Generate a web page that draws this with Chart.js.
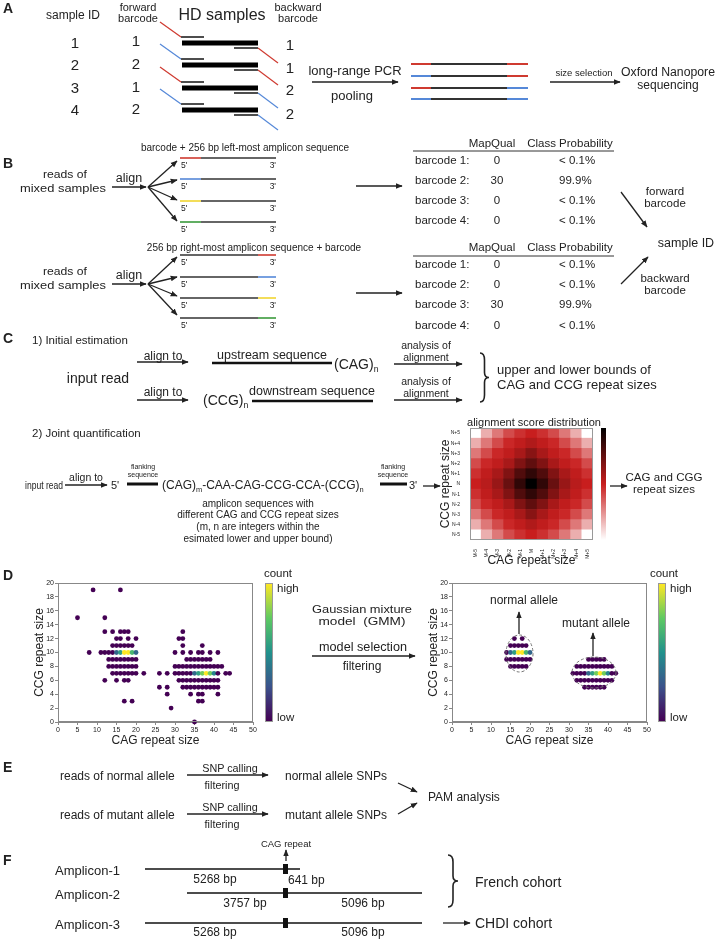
<!DOCTYPE html>
<html>
<head>
<meta charset="utf-8">
<script src="https://cdn.jsdelivr.net/npm/chart.js@4.4.0/dist/chart.umd.min.js"></script>
<style>
  body { margin: 0; background: #fff; }
  #fig { position: relative; width: 717px; height: 941px; overflow: hidden; font-family: 'Liberation Sans', Arial, sans-serif; }
  canvas { position: absolute; }
  #diagram { position: absolute; left: 0; top: 0; font-family: 'Liberation Sans', Arial, sans-serif; fill: #222; }
  .cbar { position: absolute; box-sizing: border-box; border: 1px solid #999; }
</style>
</head>
<body>
<div id="fig">
  <canvas id="heat" width="160" height="148" style="left:438px;top:420px"></canvas>
  <canvas id="scatL" width="228" height="173" style="left:32px;top:575px"></canvas>
  <canvas id="scatR" width="228" height="173" style="left:426px;top:575px"></canvas>
  <div class="cbar" style="left:601px;top:428px;width:5px;height:112px;border:none;background:linear-gradient(to bottom,#000 0%,#c81e1e 50%,#fff 100%)"></div>
  <div class="cbar" style="left:265px;top:583px;width:8px;height:139px;background:linear-gradient(to top,#440154,#3b528b,#21918c,#5ec962,#fde725)"></div>
  <div class="cbar" style="left:658px;top:583px;width:8px;height:139px;background:linear-gradient(to top,#440154,#3b528b,#21918c,#5ec962,#fde725)"></div>
  <svg id="diagram" width="717" height="941">
    <defs>
      <marker id="ah" viewBox="0 0 10 10" refX="9" refY="5" markerWidth="7" markerHeight="7" markerUnits="userSpaceOnUse" orient="auto">
        <path d="M0,1 L10,5 L0,9 z" fill="#222"></path>
      </marker>
    </defs>
  </svg>
</div>
<script>
// heatmap: alignment score distribution
const heatCols = ['M-5', 'M-4', 'M-3', 'M-2', 'M-1', 'M', 'M+1', 'M+2', 'M+3', 'M+4', 'M+5'];
const heatRows = ['N+5', 'N+4', 'N+3', 'N+2', 'N+1', 'N', 'N-1', 'N-2', 'N-3', 'N-4', 'N-5'];
const heatScores = [
  [0, 18, 30, 40, 46, 50, 46, 40, 30, 18, 0],
  [18, 30, 40, 48, 52, 56, 52, 48, 40, 30, 18],
  [30, 40, 48, 52, 58, 66, 58, 52, 48, 40, 30],
  [40, 48, 52, 58, 68, 76, 68, 58, 52, 48, 40],
  [46, 52, 58, 68, 80, 88, 80, 68, 58, 52, 46],
  [50, 54, 62, 74, 88, 100, 88, 74, 62, 54, 50],
  [46, 52, 58, 68, 80, 88, 80, 68, 58, 52, 46],
  [40, 48, 52, 58, 68, 76, 68, 58, 52, 48, 40],
  [30, 40, 48, 52, 58, 66, 58, 52, 48, 40, 30],
  [18, 30, 40, 48, 52, 56, 52, 48, 40, 30, 18],
  [0, 18, 30, 40, 46, 50, 46, 40, 30, 18, 0]
];

// scatter axes
const cagTicks = [0, 5, 10, 15, 20, 25, 30, 35, 40, 45, 50];
const ccgTicks = [0, 2, 4, 6, 8, 10, 12, 14, 16, 18, 20];

// all reads (left plot), one row per CCG size
const leftCCG = [19, 15, 13, 12, 11, 10, 9, 8, 7, 6, 5, 4, 3, 2, 0];
const leftCAG = [
  [9, 16],
  [5, 12],
  [12, 14, 16, 17, 18, 32],
  [15, 16, 18, 20, 31, 32],
  [14, 15, 16, 17, 18, 19, 32, 37],
  [8, 11, 12, 13, 14, 15, 16, 17, 18, 19, 20, 30, 32, 34, 36, 37, 39, 41],
  [13, 14, 15, 16, 17, 18, 19, 20, 33, 34, 35, 36, 37, 38, 39],
  [13, 14, 15, 16, 17, 18, 19, 20, 30, 31, 32, 33, 34, 35, 36, 37, 38, 39, 40, 41, 42],
  [14, 15, 16, 17, 18, 19, 20, 22, 26, 28, 30, 31, 32, 33, 34, 35, 36, 37, 38, 39, 40, 41, 43, 44],
  [12, 15, 17, 18, 31, 32, 33, 34, 35, 36, 37, 38, 39, 40, 41],
  [26, 28, 32, 33, 34, 35, 36, 37, 38, 39, 40, 41],
  [28, 34, 36, 37, 41],
  [17, 19, 36, 37],
  [29],
  [35]
];

// after GMM filtering (right plot)
const normalCCG = [12, 11, 10, 9, 8];
const normalCAG = [
  [16, 18],
  [15, 16, 17, 18, 19],
  [14, 15, 16, 17, 18, 19, 20],
  [14, 15, 16, 17, 18, 19, 20],
  [15, 16, 17, 18, 19]
];
const mutantCCG = [9, 8, 7, 6, 5];
const mutantCAG = [
  [35, 36, 37, 38, 39],
  [32, 33, 34, 35, 36, 37, 38, 39, 40, 41],
  [31, 32, 33, 34, 35, 36, 37, 38, 39, 40, 41, 42],
  [32, 33, 34, 35, 36, 37, 38, 39, 40, 41],
  [34, 35, 36, 37, 38, 39]
];

// read counts above the minimum (cag, ccg, count); every other dot is count 1
const hotCounts = [
  [15, 10, 4], [16, 10, 6], [17, 10, 10], [18, 10, 10], [19, 10, 7], [20, 10, 4],
  [35, 7, 4], [36, 7, 6], [37, 7, 8], [38, 7, 10], [39, 7, 8], [40, 7, 5]
];
const maxCount = 10;

Chart.defaults.font.family = "'Liberation Sans', Arial, sans-serif";
Chart.defaults.color = '#222';

const VIRIDIS = [[68, 1, 84], [59, 82, 139], [33, 145, 140], [94, 201, 98], [253, 231, 37]];
function viridis(c) {
  const t = (c - 1) / (maxCount - 1) * (VIRIDIS.length - 1);
  const i = Math.min(Math.floor(t), VIRIDIS.length - 2), f = t - i;
  const a = VIRIDIS[i], b = VIRIDIS[i + 1];
  return `rgb(${a.map((v, k) => Math.round(v + (b[k] - v) * f)).join(',')})`;
}

function heatColor(v) {
  const red = [200, 30, 30];
  let rgb;
  if (v <= 50) {
    const t = v / 50;
    rgb = red.map(c => Math.round(255 + (c - 255) * t));
  } else {
    const t = (v - 50) / 50;
    rgb = red.map(c => Math.round(c * (1 - t)));
  }
  return `rgb(${rgb.join(',')})`;
}

function toPoints(ccgList, cagLists) {
  const pts = [];
  ccgList.forEach((y, i) => {
    cagLists[i].forEach(x => {
      const h = hotCounts.find(p => p[0] === x && p[1] === y);
      pts.push({ x: x, y: y, c: h ? h[2] : 1 });
    });
  });
  return pts;
}

// box round the plot area
const frame = {
  id: 'frame',
  afterDatasetsDraw(chart, args, opts) {
    const a = chart.chartArea, ctx = chart.ctx;
    ctx.save();
    ctx.strokeStyle = opts.color || '#888';
    ctx.lineWidth = 1;
    ctx.strokeRect(Math.round(a.left) + 0.5, Math.round(a.top) + 0.5, Math.round(a.width) - 1, Math.round(a.height) - 1);
    ctx.restore();
  }
};
Chart.register(frame);

function scatterOptions() {
  return {
    animation: false,
    responsive: false,
    events: [],
    layout: { padding: { top: 8, right: 7, left: 0, bottom: 0 } },
    plugins: { legend: { display: false }, tooltip: { enabled: false }, frame: { color: '#888' } },
    scales: {
      x: {
        type: 'linear', min: 0, max: 50,
        afterBuildTicks: s => { s.ticks = cagTicks.map(v => ({ value: v })); },
        afterFit: s => { s.height = 26; },
        grid: { drawOnChartArea: false, tickLength: 3, color: '#888' },
        border: { color: '#888' },
        ticks: { font: { size: 7 }, padding: 1, maxRotation: 0, autoSkip: false },
        title: { display: true, text: 'CAG repeat size', font: { size: 12 }, padding: { top: 1, bottom: 0 } }
      },
      y: {
        type: 'linear', min: 0, max: 20,
        afterBuildTicks: s => { s.ticks = ccgTicks.map(v => ({ value: v })); },
        afterFit: s => { s.width = 26; },
        grid: { drawOnChartArea: false, tickLength: 3, color: '#888' },
        border: { color: '#888' },
        ticks: { font: { size: 7 }, padding: 1, autoSkip: false },
        title: { display: true, text: 'CCG repeat size', font: { size: 12 }, padding: { top: 0, bottom: 2 } }
      }
    }
  };
}

function scatterChart(id, points) {
  return new Chart(document.getElementById(id), {
    type: 'scatter',
    data: {
      datasets: [{
        data: points,
        pointRadius: 2.4,
        pointBorderWidth: 0,
        pointBackgroundColor: points.map(p => viridis(p.c)),
        clip: 4
      }]
    },
    options: scatterOptions()
  });
}

scatterChart('scatL', toPoints(leftCCG, leftCAG));
scatterChart('scatR', toPoints(normalCCG, normalCAG).concat(toPoints(mutantCCG, mutantCAG)));

// heatmap as stacked unit bars, bottom row first
const heatDatasets = heatRows.slice().reverse().map((r, i) => ({
  label: r,
  data: heatCols.map(() => 1),
  backgroundColor: heatScores[heatRows.length - 1 - i].map(heatColor),
  borderWidth: 0,
  barPercentage: 1,
  categoryPercentage: 1
}));

new Chart(document.getElementById('heat'), {
  type: 'bar',
  data: { labels: heatCols, datasets: heatDatasets },
  options: {
    animation: false,
    responsive: false,
    events: [],
    layout: { padding: { top: 8, right: 5, left: 0, bottom: 0 } },
    plugins: { legend: { display: false }, tooltip: { enabled: false }, frame: { color: '#999' } },
    scales: {
      x: {
        stacked: true,
        afterFit: s => { s.height = 28; },
        grid: { display: false },
        border: { display: false },
        ticks: { font: { size: 5 }, padding: 1, minRotation: 90, maxRotation: 90, autoSkip: false },
        title: { display: true, text: 'CAG repeat size', font: { size: 12 }, padding: { top: 0, bottom: 0 } }
      },
      y: {
        stacked: true, min: 0, max: 11,
        afterBuildTicks: s => { s.ticks = heatRows.map((r, i) => ({ value: 10.5 - i })); },
        afterFit: s => { s.width = 32; },
        grid: { display: false },
        border: { display: false },
        ticks: { font: { size: 5 }, padding: 2, autoSkip: false, callback: v => heatRows[Math.round(10.5 - v)] },
        title: { display: true, text: 'CCG repeat size', font: { size: 12 }, padding: { top: 0, bottom: 1 } }
      }
    }
  }
});

// ---------- diagram parts ----------
const NS = 'http://www.w3.org/2000/svg';
const svg = document.getElementById('diagram');
const RED = '#cf3a30', BLUE = '#5588d8', YEL = '#f0d530', GRN = '#3a9a3c', INK = '#222';

function el(tag, attrs) {
  const e = document.createElementNS(NS, tag);
  for (const k in attrs) e.setAttribute(k, attrs[k]);
  svg.appendChild(e);
  return e;
}
function line(x1, y1, x2, y2, color, w, head) {
  const a = { x1, y1, x2, y2, stroke: color || INK, 'stroke-width': w || 1.3 };
  if (head) a['marker-end'] = 'url(#ah)';
  return el('line', a);
}
function arrow(x1, y1, x2, y2) { return line(x1, y1, x2, y2, INK, 1.3, true); }
function tx(x, y, s, size, anchor, bold, width) {
  const t = el('text', { x, y, 'font-size': size, 'text-anchor': anchor || 'start', 'dominant-baseline': 'central' });
  if (bold) t.setAttribute('font-weight', 'bold');
  if (width) { t.setAttribute('textLength', width); t.setAttribute('lengthAdjust', 'spacingAndGlyphs'); }
  t.style.whiteSpace = 'pre';
  t.textContent = s;
  return t;
}
// text with subscripts: parts = [[string, isSub], ...]
function txSub(x, y, parts, size, anchor) {
  const t = el('text', { x, y, 'font-size': size, 'text-anchor': anchor || 'start', 'dominant-baseline': 'central' });
  let shifted = false;
  parts.forEach(([s, isSub]) => {
    const sp = document.createElementNS(NS, 'tspan');
    if (isSub) { sp.setAttribute('font-size', size * 0.62); sp.setAttribute('dy', size * 0.35); shifted = true; }
    else if (shifted) { sp.setAttribute('dy', -size * 0.35); shifted = false; }
    sp.textContent = s;
    t.appendChild(sp);
  });
  return t;
}
function brace(x, y1, y2, w) {
  const ym = (y1 + y2) / 2, h = w / 2;
  el('path', {
    d: `M${x},${y1} Q${x + h},${y1} ${x + h},${y1 + 7} L${x + h},${ym - 5} Q${x + h},${ym} ${x + w},${ym} ` +
       `Q${x + h},${ym} ${x + h},${ym + 5} L${x + h},${y2 - 7} Q${x + h},${y2} ${x},${y2}`,
    fill: 'none', stroke: INK, 'stroke-width': 1.6
  });
}

// panel A
tx(3, 8, 'A', 14, 'start', true);
tx(73, 15, 'sample ID', 12, 'middle');
tx(138, 7, 'forward', 11, 'middle');
tx(138, 18, 'barcode', 11, 'middle');
tx(222, 14, 'HD samples', 16, 'middle');
tx(298, 7, 'backward', 11, 'middle');
tx(298, 18, 'barcode', 11, 'middle');
const aBarY = [43, 65, 88, 110];
const aFwd = ['1', '2', '1', '2'], aBwd = ['1', '1', '2', '2'];
const aFwdCol = [RED, BLUE, RED, BLUE], aBwdCol = [RED, RED, BLUE, BLUE];
const aSampleY = [42, 64, 87, 109], aFwdY = [40, 63, 86, 108], aBwdY = [44, 67, 89, 113];
aBarY.forEach((y, i) => {
  tx(75, aSampleY[i], String(i + 1), 15, 'middle');
  tx(136, aFwdY[i], aFwd[i], 15, 'middle');
  tx(290, aBwdY[i], aBwd[i], 15, 'middle');
  line(182, y, 258, y, '#000', 5);
  line(181, y - 6, 204, y - 6, '#000', 1.4);
  line(234, y + 5, 258, y + 5, '#000', 1.4);
  line(160, y - 21, 181, y - 6, aFwdCol[i], 1.2);
  line(258, y + 5, 278, y + 20, aBwdCol[i], 1.2);
});
tx(355, 70, 'long-range PCR', 13, 'middle');
tx(352, 95, 'pooling', 13, 'middle');
arrow(312, 82, 398, 82);
[64, 76, 88, 99].forEach((y, i) => {
  line(411, y, 431, y, aFwdCol[i], 2);
  line(431, y, 507, y, '#333', 2);
  line(507, y, 528, y, aBwdCol[i], 2);
});
tx(584, 72, 'size selection', 9.5, 'middle');
arrow(550, 82, 620, 82);
tx(668, 72, 'Oxford Nanopore', 12, 'middle', false, 94);
tx(668, 85, 'sequencing', 12, 'middle');

// panel B
tx(3, 163, 'B', 14, 'start', true);
const bCols = [RED, BLUE, YEL, GRN];
const bMapQ = [['0', '30', '0', '0'], ['0', '0', '30', '0']];
const bProb = [['< 0.1%', '99.9%', '< 0.1%', '< 0.1%'], ['< 0.1%', '< 0.1%', '99.9%', '< 0.1%']];
const bBlocks = [
  { title: 'barcode + 256 bp left-most amplicon sequence', titleX: 245, titleY: 147, arrowY: 187,
    tips: [161, 180, 200, 221], lines: [158, 179, 201, 222], left: true, midY: 186, headY: 143, ruleY: 151, rows: [160, 180, 200, 220] },
  { title: '256 bp right-most amplicon sequence + barcode', titleX: 254, titleY: 247, arrowY: 284,
    tips: [257, 277, 296, 315], lines: [255, 277, 298, 318], left: false, midY: 293, headY: 247, ruleY: 256, rows: [264, 284, 304, 325] }
];
bBlocks.forEach((b, k) => {
  tx(b.titleX, b.titleY, b.title, 10, 'middle');
  tx(65, b.arrowY - 13, 'reads of', 11.5, 'middle', false, 44);
  tx(63, b.arrowY + 0.5, 'mixed samples', 11.5, 'middle', false, 86);
  tx(129, b.arrowY - 9, 'align', 12.5, 'middle');
  arrow(112, b.arrowY, 146, b.arrowY);
  b.tips.forEach(t => arrow(148, b.arrowY, 177, t));
  b.lines.forEach((y, i) => {
    if (b.left) { line(180, y, 201, y, bCols[i], 1.6); line(201, y, 276, y, '#333', 1.6); }
    else { line(180, y, 258, y, '#333', 1.6); line(258, y, 276, y, bCols[i], 1.6); }
    tx(181, y + 7, "5'", 8.5, 'start');
    tx(276, y + 7, "3'", 8.5, 'end');
  });
  arrow(356, b.midY, 402, b.midY);
  tx(492, b.headY, 'MapQual', 11.5, 'middle');
  tx(570, b.headY, 'Class Probability', 11.5, 'middle');
  line(413, b.ruleY, 614, b.ruleY, '#333', 1);
  b.rows.forEach((y, i) => {
    tx(415, y, `barcode ${i + 1}:`, 11.5, 'start');
    tx(497, y, bMapQ[k][i], 11.5, 'middle');
    tx(559, y, bProb[k][i], 11.5, 'start');
  });
});
arrow(621, 192, 647, 227);
arrow(621, 284, 648, 257);
tx(665, 191, 'forward', 11.5, 'middle');
tx(665, 203, 'barcode', 11.5, 'middle');
tx(686, 243, 'sample ID', 12.5, 'middle');
tx(665, 278, 'backward', 11.5, 'middle');
tx(665, 290, 'barcode', 11.5, 'middle');

// panel C
tx(3, 338, 'C', 14, 'start', true);
tx(32, 340, '1) Initial estimation', 11.5, 'start');
tx(163, 356, 'align to', 12, 'middle');
arrow(137, 362, 188, 362);
tx(163, 392, 'align to', 12, 'middle');
arrow(137, 400, 188, 400);
tx(98, 378, 'input read', 14, 'middle');
tx(272, 355, 'upstream sequence', 12.5, 'middle');
line(212, 363, 332, 363, '#111', 2.5);
txSub(334, 364, [['(CAG)', false], ['n', true]], 14, 'start');
txSub(203, 400, [['(CCG)', false], ['n', true]], 14, 'start');
tx(312, 391, 'downstream sequence', 12.5, 'middle');
line(252, 401, 373, 401, '#111', 2.5);
tx(426, 345, 'analysis of', 10.5, 'middle');
tx(426, 357, 'alignment', 10.5, 'middle');
arrow(394, 364, 462, 364);
tx(426, 381, 'analysis of', 10.5, 'middle');
tx(426, 393, 'alignment', 10.5, 'middle');
arrow(394, 400, 462, 400);
brace(480, 353, 402, 9);
tx(497, 369, 'upper and lower bounds of', 13, 'start');
tx(497, 384, 'CAG and CCG repeat sizes', 13, 'start');
tx(32, 433, '2) Joint quantification', 11.5, 'start');
tx(534, 422, 'alignment score distribution', 11, 'middle');
tx(25, 485, 'input read', 11, 'start', false, 38);
tx(86, 477, 'align to', 10.5, 'middle');
arrow(65, 485, 107, 485);
tx(111, 485, "5'", 11, 'start');
tx(143, 466, 'flanking', 7, 'middle');
tx(143, 474, 'sequence', 7, 'middle');
line(127, 484, 158, 484, '#111', 3);
txSub(162, 485, [['(CAG)', false], ['m', true], ['-CAA-CAG-CCG-CCA-(CCG)', false], ['n', true]], 12, 'start');
tx(393, 466, 'flanking', 7, 'middle');
tx(393, 474, 'sequence', 7, 'middle');
line(380, 484, 407, 484, '#111', 3);
tx(409, 485, "3'", 11, 'start');
arrow(423, 486, 440, 486);
tx(258, 503, 'amplicon sequences with', 10, 'middle');
tx(258, 514, 'different CAG and CCG repeat sizes', 10, 'middle');
tx(258, 526, '(m, n are integers within the', 10, 'middle');
tx(258, 538, 'esimated lower and upper bound)', 10, 'middle');
arrow(610, 486, 627, 486);
tx(664, 477, 'CAG and CGG', 11.5, 'middle', false, 77);
tx(664, 489, 'repeat sizes', 11.5, 'middle');

// panel D
tx(3, 575, 'D', 14, 'start', true);
tx(278, 573, 'count', 11.5, 'middle');
tx(277, 588, 'high', 11.5, 'start');
tx(277, 717, 'low', 11.5, 'start');
tx(362, 609, 'Gaussian mixture', 11.5, 'middle', false, 100);
tx(362, 621, 'model  (GMM)', 11.5, 'middle', false, 87);
tx(363, 647, 'model selection', 12, 'middle', false, 88);
arrow(312, 656, 415, 656);
tx(362, 666, 'filtering', 12, 'middle');
tx(664, 573, 'count', 11.5, 'middle');
tx(670, 588, 'high', 11.5, 'start');
tx(670, 717, 'low', 11.5, 'start');
el('ellipse', { cx: 519.5, cy: 653.5, rx: 13.5, ry: 18.5, fill: 'none', stroke: '#777', 'stroke-width': 1, 'stroke-dasharray': '3,2' });
el('ellipse', { cx: 594, cy: 672.5, rx: 22, ry: 15.5, fill: 'none', stroke: '#777', 'stroke-width': 1, 'stroke-dasharray': '3,2' });
arrow(519, 634, 519, 612);
arrow(593, 656, 593, 633);
tx(524, 600, 'normal allele', 12, 'middle');
tx(596, 623, 'mutant allele', 12, 'middle');

// panel E
tx(3, 767, 'E', 14, 'start', true);
[[776, 'normal'], [815, 'mutant']].forEach(([y, kind]) => {
  tx(60, y, `reads of ${kind} allele`, 12, 'start');
  tx(230, y - 8, 'SNP calling', 10.8, 'middle');
  arrow(187, y - 1, 268, y - 1);
  tx(222, y + 9, 'filtering', 10.8, 'middle');
  tx(285, y, `${kind} allele SNPs`, 12, 'start');
});
arrow(398, 783, 417, 792);
arrow(398, 814, 417, 803);
tx(428, 797, 'PAM analysis', 12, 'start');

// panel F
tx(3, 860, 'F', 14, 'start', true);
tx(286, 843, 'CAG repeat', 9.5, 'middle');
arrow(286, 861, 286, 850);
const fRows = [
  { name: 'Amplicon-1', y: 869, x1: 145, x2: 300 },
  { name: 'Amplicon-2', y: 893, x1: 187, x2: 422 },
  { name: 'Amplicon-3', y: 923, x1: 145, x2: 422 }
];
fRows.forEach(r => {
  tx(55, r.y + 1, r.name, 13, 'start');
  line(r.x1, r.y, r.x2, r.y, '#111', 1.5);
  el('rect', { x: 283, y: r.y - 5, width: 5, height: 10, fill: '#111' });
});
tx(215, 879, '5268 bp', 12, 'middle');
tx(288, 880, '641 bp', 12, 'start');
tx(245, 903, '3757 bp', 12, 'middle');
tx(363, 903, '5096 bp', 12, 'middle');
tx(215, 932, '5268 bp', 12, 'middle');
tx(363, 932, '5096 bp', 12, 'middle');
brace(448, 855, 907, 10);
tx(475, 882, 'French cohort', 14, 'start');
arrow(443, 923, 470, 923);
tx(475, 923, 'CHDI cohort', 14, 'start');
</script>
</body>
</html>
